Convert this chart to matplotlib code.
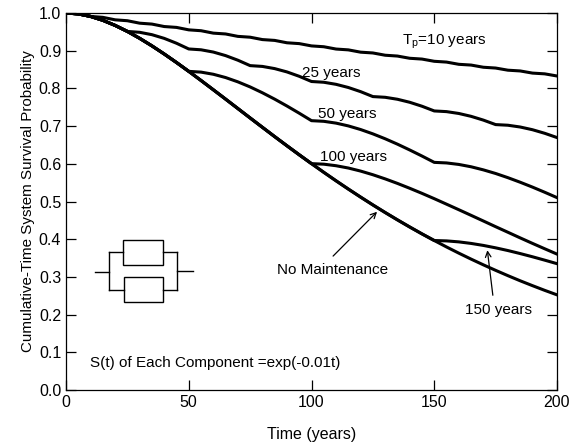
import numpy as np
import matplotlib.pyplot as plt
from matplotlib.patches import Rectangle
from matplotlib.lines import Line2D

# time grid, 5-year steps
t = np.arange(0, 205, 5)

# survival probability
no_maint = [1.0000, 0.9976, 0.9909, 0.9806, 0.9671, 0.9511, 0.9328, 0.9128, 0.8913, 0.8687,
            0.8452, 0.8210, 0.7964, 0.7716, 0.7466, 0.7216, 0.6968, 0.6721, 0.6478, 0.6239,
            0.6004, 0.5774, 0.5549, 0.5330, 0.5117, 0.4909, 0.4708, 0.4513, 0.4324, 0.4141,
            0.3965, 0.3794, 0.3630, 0.3472, 0.3320, 0.3174, 0.3033, 0.2897, 0.2768, 0.2643,
            0.2524]
tp150 = no_maint[:31] + [0.3955, 0.3929, 0.3888, 0.3835, 0.3771, 0.3699, 0.3619, 0.3534,
                         0.3444, 0.3351]
tp100 = no_maint[:21] + [0.5990, 0.5949, 0.5888, 0.5807, 0.5710, 0.5600, 0.5480, 0.5351,
                         0.5216, 0.5075, 0.4929, 0.4782, 0.4633, 0.4483, 0.4332, 0.4184,
                         0.4035, 0.3889, 0.3746, 0.3605]
tp50 = no_maint[:11] + [0.8432, 0.8375, 0.8288, 0.8174, 0.8039, 0.7884, 0.7715, 0.7533,
                        0.7342, 0.7144,
                        0.7127, 0.7079, 0.7005, 0.6909, 0.6794, 0.6664, 0.6521, 0.6367,
                        0.6206, 0.6038,
                        0.6023, 0.5983, 0.5921, 0.5839, 0.5743, 0.5632, 0.5511, 0.5382,
                        0.5245, 0.5103]
tp25 = [1.0000, 0.9976, 0.9909, 0.9806, 0.9671, 0.9511,
        0.9488, 0.9425, 0.9327, 0.9198, 0.9046,
        0.9024, 0.8964, 0.8870, 0.8748, 0.8604,
        0.8583, 0.8525, 0.8437, 0.8321, 0.8183,
        0.8163, 0.8108, 0.8024, 0.7914, 0.7783,
        0.7764, 0.7712, 0.7632, 0.7527, 0.7402,
        0.7384, 0.7335, 0.7259, 0.7159, 0.7040,
        0.7023, 0.6976, 0.6904, 0.6809, 0.6696]
tp10 = [1.0000, 0.9976, 0.9909, 0.9885, 0.9819, 0.9795, 0.9730, 0.9706, 0.9641, 0.9618,
        0.9553, 0.9530, 0.9466, 0.9444, 0.9380, 0.9358, 0.9295, 0.9273, 0.9210, 0.9188,
        0.9127, 0.9105, 0.9044, 0.9022, 0.8961, 0.8940, 0.8880, 0.8858, 0.8799, 0.8778,
        0.8719, 0.8698, 0.8639, 0.8619, 0.8561, 0.8540, 0.8483, 0.8463, 0.8406, 0.8386,
        0.8329]

plt.rcParams['font.family'] = ['Liberation Sans', 'DejaVu Sans']

fig = plt.figure(figsize=(5.83, 4.45), dpi=100)
ax = fig.add_axes([66 / 583, 55 / 445, 491 / 583, 377 / 445])

for s in [no_maint, tp150, tp100, tp50, tp25, tp10]:
    ax.plot(t, s, color='black', lw=2.2, solid_joinstyle='round')

ax.set_xlim(0, 200)
ax.set_ylim(0, 1.0)
ax.set_xticks([0, 50, 100, 150, 200])
ax.set_yticks(np.arange(0, 1.01, 0.1))
ax.yaxis.set_major_formatter(plt.FormatStrFormatter('%.1f'))
ax.tick_params(direction='in', length=7, width=0.9, top=True, right=True, labelsize=11.5)
ax.set_xlabel('Time (years)', fontsize=11.5, labelpad=12)
ax.set_ylabel('Cumulative-Time System Survival Probability', fontsize=10.9, labelpad=3)
for sp in ax.spines.values():
    sp.set_linewidth(0.9)

# curve labels
fs = 11
ax.text(137, 0.923, r'T$_\mathregular{p}$=10 years', fontsize=fs, va='center')
ax.text(96, 0.841, '25 years', fontsize=fs, va='center')
ax.text(102.5, 0.732, '50 years', fontsize=fs, va='center')
ax.text(103.5, 0.618, '100 years', fontsize=fs, va='center')
ax.text(86, 0.318, 'No Maintenance', fontsize=fs, va='center')
ax.text(162.5, 0.212, '150 years', fontsize=fs, va='center')
ax.text(9.8, 0.072, 'S(t) of Each Component =exp(-0.01t)', fontsize=fs, va='center')

ax.annotate('', xy=(127.5, 0.478), xytext=(108, 0.350),
            arrowprops=dict(arrowstyle='->', color='black', lw=0.9))
ax.annotate('', xy=(171.5, 0.378), xytext=(174, 0.244),
            arrowprops=dict(arrowstyle='->', color='black', lw=0.9))

# parallel system sketch (axes fraction)
tr = ax.transAxes
kw = dict(color='black', lw=1.0, transform=tr)
ax.add_patch(Rectangle((0.116, 0.332), 0.082, 0.066, fill=False, lw=1.0, transform=tr))
ax.add_patch(Rectangle((0.118, 0.233), 0.080, 0.066, fill=False, lw=1.0, transform=tr))
ax.add_line(Line2D([0.059, 0.0876], [0.313, 0.313], **kw))
ax.add_line(Line2D([0.0876, 0.0876], [0.265, 0.366], **kw))
ax.add_line(Line2D([0.0876, 0.116], [0.366, 0.366], **kw))
ax.add_line(Line2D([0.0876, 0.118], [0.265, 0.265], **kw))
ax.add_line(Line2D([0.198, 0.226], [0.366, 0.366], **kw))
ax.add_line(Line2D([0.198, 0.226], [0.265, 0.265], **kw))
ax.add_line(Line2D([0.226, 0.226], [0.265, 0.366], **kw))
ax.add_line(Line2D([0.226, 0.259], [0.316, 0.316], **kw))

fig.savefig('out.png', dpi=100)
